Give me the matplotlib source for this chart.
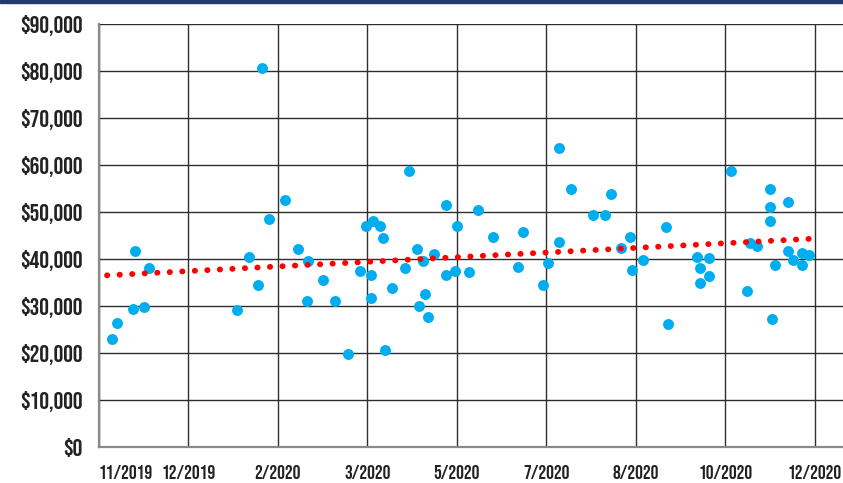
import numpy as np
import matplotlib
matplotlib.use("Agg")
import matplotlib.pyplot as plt
from matplotlib.patches import Rectangle

plt.rcParams['font.family'] = ['Bebas Neue', 'DejaVu Sans']

# days since 2019-11-01
day = [7, 10, 20, 19, 25, 28, 77, 84, 89, 91, 95, 104, 111, 116, 117, 125, 132, 139,
       146, 149, 152, 152, 153, 157, 159, 160, 164, 171, 173, 178, 179, 181, 182, 184,
       187, 194, 194, 199, 200, 207, 212, 220, 234, 237, 248, 251, 257, 257, 264, 276,
       283, 286, 292, 297, 298, 304, 317, 318, 334, 336, 336, 341, 341, 353, 362, 364,
       368, 375, 375, 375, 376, 378, 385, 385, 388, 393, 397, 393]
value = [23100, 26300, 41800, 29400, 29800, 38100, 29100, 40400, 34400, 80600, 48600,
         52600, 42100, 31100, 39600, 35600, 31100, 19800, 37500, 47000, 36600, 31800,
         48200, 47000, 44500, 20600, 33800, 38100, 58700, 42100, 30000, 39600, 32600,
         27700, 41100, 51500, 36600, 37500, 47100, 37200, 50400, 44700, 38300, 45800,
         34400, 39200, 43600, 63700, 55000, 49300, 49300, 53800, 42300, 44700, 37600,
         39900, 46900, 26200, 40400, 38200, 35000, 40200, 36400, 58700, 33300, 43500,
         42800, 54900, 51100, 48200, 27300, 38700, 52200, 41800, 39800, 41200, 40800, 38700]

x_ticks = [0, 50, 100, 150, 200, 250, 300, 350, 400]
x_labels = ["11/2019", "12/2019", "2/2020", "3/2020", "5/2020", "7/2020", "8/2020",
            "10/2020", "12/2020"]
y_ticks = list(range(0, 90001, 10000))
y_labels = ["$0", "$10,000", "$20,000", "$30,000", "$40,000", "$50,000", "$60,000",
            "$70,000", "$80,000", "$90,000"]

W, H = 843, 483
fig = plt.figure(figsize=(W / 100, H / 100), dpi=100)
ax = fig.add_axes([99 / W, (H - 447) / H, (W - 99) / W, (447 - 24.3) / H])

ax.set_xlim(0, (W - 99) / 89.46 * 50)
ax.set_ylim(0, 90000)

ax.set_xticks(x_ticks)
ax.set_xticklabels(x_labels)
ax.set_yticks(y_ticks)
ax.set_yticklabels(y_labels)

ax.grid(True, color='#2e2e2e', linewidth=1.0)
ax.set_axisbelow(True)

for s in ['top', 'right']:
    ax.spines[s].set_visible(False)
for s in ['left', 'bottom']:
    ax.spines[s].set_color('#8a8a8a')
    ax.spines[s].set_linewidth(1.6)

ax.tick_params(axis='both', length=0, colors='#222222')
ax.tick_params(axis='y', labelsize=17.5, pad=12)
ax.tick_params(axis='x', labelsize=14, pad=13)

xl = ax.get_xticklabels()
xl[0].set_horizontalalignment('left')

ax.scatter(day, value, s=62, color='#00AEEF', zorder=3, linewidths=0)

x = np.array(day, dtype=float)
y = np.array(value, dtype=float)
m, b = np.polyfit(x, y, 1)
xt = np.array([4.5, 398.5])
ax.plot(xt, m * xt + b, color='#FF0000', linewidth=4.2,
        linestyle=(0, (0.05, 2.1)), dash_capstyle='round', zorder=4)

fig.add_artist(Rectangle((0, (H - 2.5) / H), 1, 2.5 / H, transform=fig.transFigure,
                         color='#1F3A73', zorder=10))

fig.savefig('out.png', dpi=100)
